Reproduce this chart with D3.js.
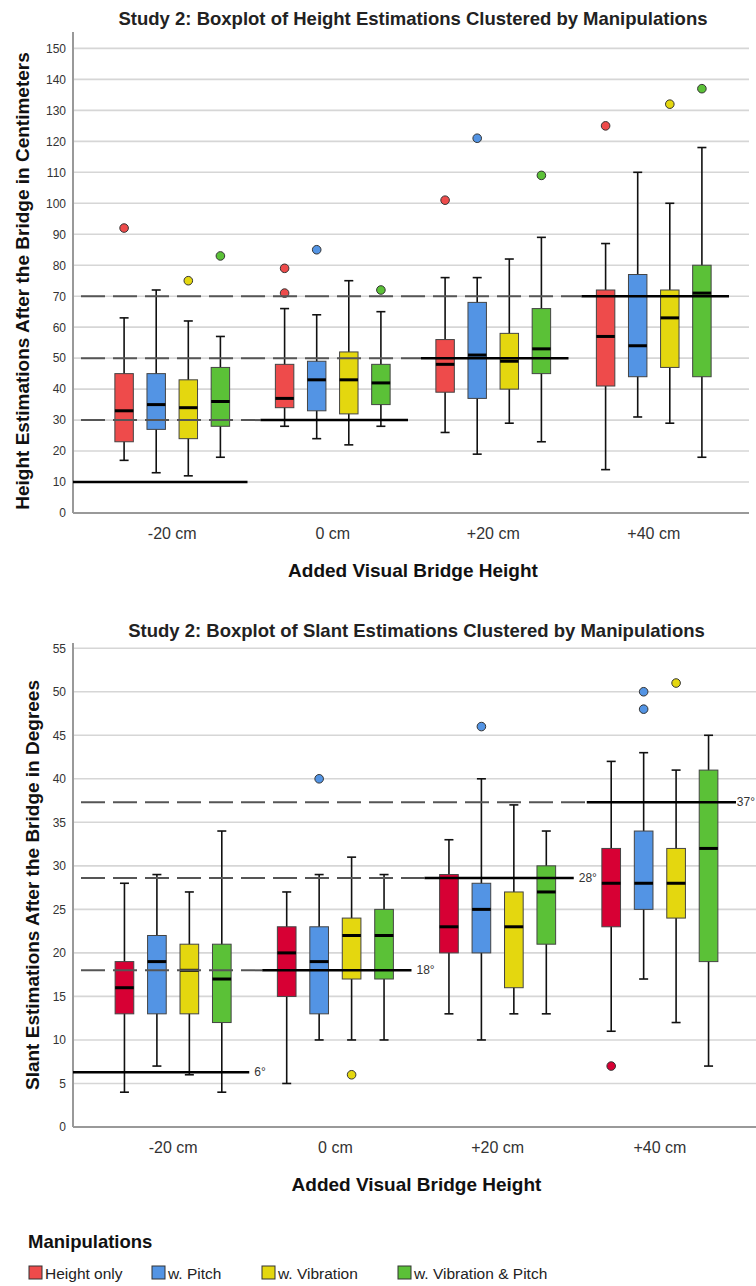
<!DOCTYPE html>
<html>
<head>
<meta charset="utf-8">
<script src="https://cdn.jsdelivr.net/npm/d3@7"></script>
<style>
  body { margin: 0; background: #fff; }
  svg { font-family: "Liberation Sans", Arial, sans-serif; }
</style>
</head>
<body>
<div id="chart-area"></div>
<script>
// categories / series
var categories = ["-20 cm", "0 cm", "+20 cm", "+40 cm"];
var series = ["Height only", "w. Pitch", "w. Vibration", "w. Vibration & Pitch"];

// study 2 height: [low whisker, q1, median, q3, high whisker] per category
var heightOnlyH = [[17,23,33,45,63], [28,34,37,48,66], [26,39,48,56,76], [14,41,57,72,87]];
var pitchH      = [[13,27,35,45,72], [24,33,43,49,64], [19,37,51,68,76], [31,44,54,77,110]];
var vibrationH  = [[12,24,34,43,62], [22,32,43,52,75], [29,40,49,58,82], [29,47,63,72,100]];
var vibPitchH   = [[18,28,36,47,57], [28,35,42,48,65], [23,45,53,66,89], [18,44,71,80,118]];
// outliers: [category, series, value]
var heightOutliers = [
  ["-20 cm","Height only",92], ["0 cm","Height only",79], ["0 cm","Height only",71],
  ["+20 cm","Height only",101], ["+40 cm","Height only",125],
  ["0 cm","w. Pitch",85], ["+20 cm","w. Pitch",121],
  ["-20 cm","w. Vibration",75], ["+40 cm","w. Vibration",132],
  ["-20 cm","w. Vibration & Pitch",83], ["0 cm","w. Vibration & Pitch",72],
  ["+20 cm","w. Vibration & Pitch",109], ["+40 cm","w. Vibration & Pitch",137]
];
var heightRefs = [10, 30, 50, 70];
var heightTicks = d3.range(0, 151, 10);

// study 2 slant
var heightOnlyS = [[4,13,16,19,28], [5,15,20,23,27], [13,20,23,29,33], [11,23,28,32,42]];
var pitchS      = [[7,13,19,22,29], [10,13,19,23,29], [10,20,25,28,40], [17,25,28,34,43]];
var vibrationS  = [[6,13,18,21,27], [10,17,22,24,31], [13,16,23,27,37], [12,24,28,32,41]];
var vibPitchS   = [[4,12,17,21,34], [10,17,22,25,29], [13,21,27,30,34], [7,19,32,41,45]];
var slantOutliers = [
  ["+40 cm","Height only",7],
  ["0 cm","w. Pitch",40], ["+20 cm","w. Pitch",46], ["+40 cm","w. Pitch",50], ["+40 cm","w. Pitch",48],
  ["0 cm","w. Vibration",6], ["+40 cm","w. Vibration",51]
];
var slantRefs = [6.3, 18, 28.6, 37.3];
var slantRefLabels = ["6°", "18°", "28°", "37°"];
var slantTicks = d3.range(0, 56, 5);

var colorsTop = ["#ee4b4b", "#5394e4", "#e4d70f", "#5bc137"];
var colorsBottom = ["#d70034", "#5394e4", "#e4d70f", "#5bc137"];

var W = 756;
var svg = d3.select("#chart-area").append("svg").attr("width", W).attr("height", 1286);

function drawChart(cfg) {
  var g = svg.append("g");
  var y = d3.scaleLinear().domain([0, cfg.yMax]).range([cfg.bottom, cfg.top]);
  var x = d3.scaleBand().domain(categories).range([cfg.bandLeft, cfg.bandRight]);
  var bw = x.bandwidth();
  var s = 0.2 * bw;
  var xs = d3.scalePoint().domain(series).range([bw / 2 - 1.5 * s, bw / 2 + 1.5 * s]);
  var boxW = 0.115 * bw;
  var color = d3.scaleOrdinal().domain(series).range(cfg.colors);

  // grid
  g.selectAll(".grid").data(cfg.ticks).enter().append("line")
    .attr("x1", cfg.left).attr("x2", cfg.right)
    .attr("y1", d => y(d)).attr("y2", d => y(d))
    .attr("stroke", d => d === 0 ? "none" : "#d6d6d6").attr("stroke-width", 1.6);

  // y axis
  var yAxis = d3.axisLeft(y).tickValues(cfg.ticks).tickSize(0).tickPadding(7);
  var ya = g.append("g").attr("transform", "translate(" + cfg.left + ",0)").call(yAxis);
  ya.select(".domain").remove();
  ya.selectAll("text").attr("font-size", 12).attr("fill", "#333")
    .attr("font-family", "Liberation Sans, Arial, sans-serif");
  g.append("line").attr("x1", cfg.left).attr("x2", cfg.left)
    .attr("y1", cfg.top).attr("y2", cfg.bottom).attr("stroke", "#999").attr("stroke-width", 2);
  g.append("line").attr("x1", cfg.left).attr("x2", cfg.right)
    .attr("y1", cfg.bottom).attr("y2", cfg.bottom).attr("stroke", "#999").attr("stroke-width", 2);

  // x axis labels
  var xAxis = d3.axisBottom(x).tickSize(0).tickPadding(0);
  var xa = g.append("g").attr("transform", "translate(0," + (cfg.bottom + 26) + ")").call(xAxis);
  xa.select(".domain").remove();
  xa.selectAll("text").attr("font-size", 16).attr("fill", "#333").attr("dy", 0)
    .attr("font-family", "Liberation Sans, Arial, sans-serif");

  // boxes
  var rows = [];
  cfg.stats.forEach((arr, si) => {
    arr.forEach((v, ci) => {
      rows.push({cat: categories[ci], ser: series[si], lo: v[0], q1: v[1], med: v[2], q3: v[3], hi: v[4]});
    });
  });
  var cx = d => x(d.cat) + xs(d.ser);
  var boxes = g.selectAll(".box").data(rows).enter().append("g");
  boxes.append("line").attr("x1", cx).attr("x2", cx)
    .attr("y1", d => y(d.hi)).attr("y2", d => y(d.lo)).attr("stroke", "#111").attr("stroke-width", 1.6);
  boxes.append("line").attr("x1", d => cx(d) - 4.5).attr("x2", d => cx(d) + 4.5)
    .attr("y1", d => y(d.hi)).attr("y2", d => y(d.hi)).attr("stroke", "#111").attr("stroke-width", 1.6);
  boxes.append("line").attr("x1", d => cx(d) - 4.5).attr("x2", d => cx(d) + 4.5)
    .attr("y1", d => y(d.lo)).attr("y2", d => y(d.lo)).attr("stroke", "#111").attr("stroke-width", 1.6);
  boxes.append("rect").attr("x", d => cx(d) - boxW / 2).attr("width", boxW)
    .attr("y", d => y(d.q3)).attr("height", d => y(d.q1) - y(d.q3))
    .attr("fill", d => color(d.ser)).attr("stroke", "#444").attr("stroke-width", 1);
  boxes.append("line").attr("x1", d => cx(d) - boxW / 2).attr("x2", d => cx(d) + boxW / 2)
    .attr("y1", d => y(d.med)).attr("y2", d => y(d.med)).attr("stroke", "#000").attr("stroke-width", 3);

  // outliers
  g.selectAll(".out").data(cfg.outliers).enter().append("circle")
    .attr("cx", d => x(d[0]) + xs(d[1])).attr("cy", d => y(d[2])).attr("r", 4.3)
    .attr("fill", d => color(d[1])).attr("stroke", "#333").attr("stroke-width", 1);

  // reference lines: dashed run-in, solid over the group
  cfg.refs.forEach((v, i) => {
    var x0 = x(categories[i]);
    var sStart = i === 0 ? cfg.left : x0 + 8;
    var sEnd = x0 + bw - 5;
    if (i > 0) {
      g.append("line").attr("x1", cfg.left + 8).attr("x2", sStart)
        .attr("y1", y(v)).attr("y2", y(v))
        .attr("stroke", "#555").attr("stroke-width", 2).attr("stroke-dasharray", "24,8");
    }
    g.append("line").attr("x1", sStart).attr("x2", sEnd)
      .attr("y1", y(v)).attr("y2", y(v)).attr("stroke", "#000").attr("stroke-width", 2.5);
    if (cfg.refLabels) {
      var t = g.append("text").attr("x", sEnd + 5).attr("y", y(v) + 4)
        .attr("font-size", 12).attr("fill", "#333").text(cfg.refLabels[i]);
      var tw = t.node().getComputedTextLength();
      if (sEnd + 5 + tw > W - 1) t.attr("x", W - 1 - tw);
    }
  });

  // titles
  g.append("text").attr("x", (cfg.bandLeft + cfg.bandRight) / 2).attr("y", cfg.titleY)
    .attr("text-anchor", "middle").attr("font-size", 18.5).attr("font-weight", "bold")
    .attr("fill", "#222").text(cfg.title);
  g.append("text").attr("transform", "translate(" + cfg.yTitleX + "," + cfg.yTitleY + ") rotate(-90)")
    .attr("text-anchor", "middle").attr("font-size", 19).attr("font-weight", "bold")
    .attr("fill", "#111").text(cfg.yTitle);
  g.append("text").attr("x", (cfg.bandLeft + cfg.bandRight) / 2).attr("y", cfg.bottom + 64)
    .attr("text-anchor", "middle").attr("font-size", 19).attr("font-weight", "bold")
    .attr("fill", "#111").text("Added Visual Bridge Height");
}

drawChart({
  title: "Study 2: Boxplot of Height Estimations Clustered by Manipulations",
  yTitle: "Height Estimations After the Bridge in Centimeters",
  titleY: 25, yTitleX: 29, yTitleY: 281,
  top: 32, bottom: 513, yMax: 155.3,
  left: 73, right: 749, bandLeft: 92, bandRight: 734,
  stats: [heightOnlyH, pitchH, vibrationH, vibPitchH],
  outliers: heightOutliers, refs: heightRefs, ticks: heightTicks,
  colors: colorsTop
});

drawChart({
  title: "Study 2: Boxplot of Slant Estimations Clustered by Manipulations",
  yTitle: "Slant Estimations After the Bridge in Degrees",
  titleY: 637, yTitleX: 39, yTitleY: 885,
  top: 643, bottom: 1127, yMax: 55.6,
  left: 73, right: 756, bandLeft: 92, bandRight: 741,
  stats: [heightOnlyS, pitchS, vibrationS, vibPitchS],
  outliers: slantOutliers, refs: slantRefs, refLabels: slantRefLabels, ticks: slantTicks,
  colors: colorsBottom
});

// legend
var legendX = [29, 152, 262, 398];
svg.append("text").attr("x", 28).attr("y", 1248).attr("font-size", 18.5).attr("font-weight", "bold")
  .attr("fill", "#111").text("Manipulations");
var leg = svg.selectAll(".leg").data(series).enter().append("g")
  .attr("transform", (d, i) => "translate(" + legendX[i] + ",1266)");
leg.append("rect").attr("width", 13).attr("height", 13)
  .attr("fill", (d, i) => colorsTop[i]).attr("stroke", "#333").attr("stroke-width", 1);
leg.append("text").attr("x", 16).attr("y", 12.5).attr("font-size", 15.5).attr("fill", "#222")
  .text(d => d);
</script>
</body>
</html>
